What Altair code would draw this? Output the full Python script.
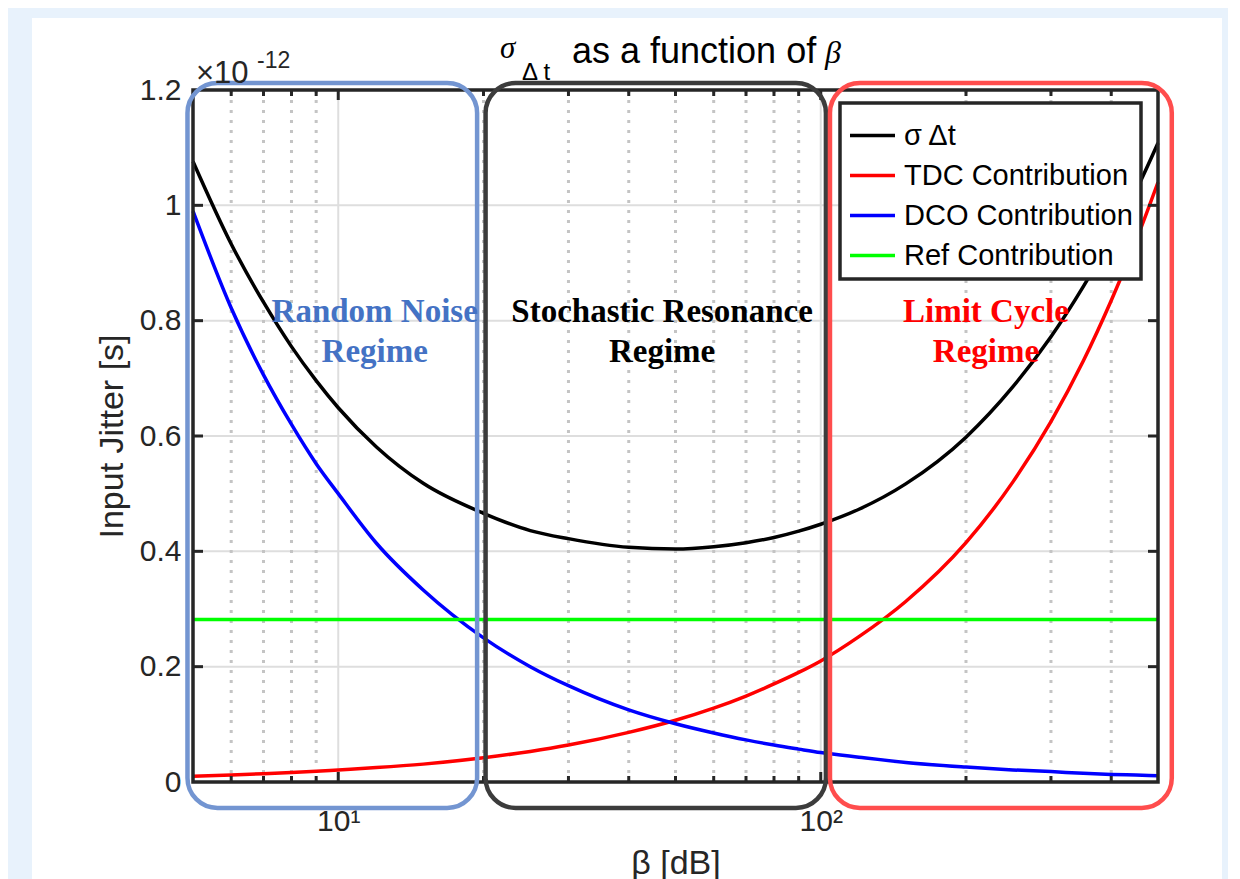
import altair as alt
import pandas as pd

# ---------------- data ----------------
beta = [5, 6, 7, 8, 9, 10, 12, 15, 20, 25, 30, 40, 50, 60, 70, 80, 90,
        100, 120, 150, 200, 250, 300, 350, 400, 450, 500]
sigma_dt = [1.076, 0.933, 0.832, 0.755, 0.696, 0.649, 0.581, 0.518, 0.466,
            0.436, 0.422, 0.407, 0.404, 0.408, 0.415, 0.424, 0.435,
            0.447, 0.473, 0.517, 0.598, 0.685, 0.772, 0.859, 0.943, 1.025, 1.108]
tdc = [0.010, 0.012, 0.0145, 0.0165, 0.0187, 0.021, 0.025, 0.031, 0.042,
       0.053, 0.064, 0.086, 0.107, 0.128, 0.149, 0.170, 0.190,
       0.210, 0.252, 0.313, 0.415, 0.520, 0.625, 0.730, 0.835, 0.938, 1.040]
dco = [0.990, 0.822, 0.706, 0.620, 0.552, 0.500, 0.414, 0.333, 0.250,
       0.200, 0.167, 0.125, 0.101, 0.085, 0.073, 0.064, 0.057,
       0.051, 0.043, 0.034, 0.026, 0.021, 0.018, 0.015, 0.013, 0.012, 0.011]
ref_beta = [5, 500]
ref_val = [0.282, 0.282]

series_names = ["σ Δt", "TDC Contribution", "DCO Contribution", "Ref Contribution"]
series_colors = ["#000000", "#ff0000", "#0000ff", "#00ff00"]

y_ticks = [0, 0.2, 0.4, 0.6, 0.8, 1.0, 1.2]
y_inner = [0.2, 0.4, 0.6, 0.8, 1.0]
x_major = [10, 100]
x_minor = [6, 7, 8, 9, 20, 30, 40, 50, 60, 70, 80, 90, 200, 300, 400]

regime_lo = [4.87, 20.2, 104.5]
regime_hi = [19.4, 102.5, 534]
regime_bottom = [-0.045, -0.045, -0.045]
regime_top = [1.212, 1.212, 1.212]
regime_edge = ["#7395d1", "#3c3c3c", "#ff4d4d"]

label_beta = [11.9, 46.9, 220, 11.9, 46.9, 220]
label_y = [0.815, 0.815, 0.815, 0.746, 0.746, 0.746]
label_text = ["Random Noise", "Stochastic Resonance", "Limit Cycle",
              "Regime", "Regime", "Regime"]
label_color = ["#4472c4", "#000000", "#ff0000", "#4472c4", "#000000", "#ff0000"]

# ---------------- tables ----------------
frames = []
for name, vals in zip(series_names[:3], [sigma_dt, tdc, dco]):
    frames.append(pd.DataFrame({"beta": beta, "val": vals, "series": name}))
frames.append(pd.DataFrame({"beta": ref_beta, "val": ref_val, "series": series_names[3]}))
lines_df = pd.concat(frames, ignore_index=True)

regime_df = pd.DataFrame({"lo": regime_lo, "hi": regime_hi,
                          "bottom": regime_bottom, "top": regime_top,
                          "edge": regime_edge})
text_df = pd.DataFrame({"beta": label_beta, "y": label_y,
                        "text": label_text, "color": label_color})
one = pd.DataFrame({"k": [0]})

W, H = 965, 692
AX = "#262626"
SANS = "Liberation Sans"

xs = alt.Scale(type="log", domain=[5, 500], nice=False)
ys = alt.Scale(domain=[0, 1.2], nice=False, zero=False)

# ---------------- layers ----------------
bg = alt.Chart(one).mark_rect(fill="white").encode(
    x=alt.value(-161), x2=alt.value(1029), y=alt.value(-72), y2=alt.value(H + 120))

ygrid = alt.Chart(pd.DataFrame({"v": y_inner})).mark_rule(
    color="#dedede", strokeWidth=2).encode(y=alt.Y("v:Q", scale=ys))
xgrid_major = alt.Chart(pd.DataFrame({"b": x_major})).mark_rule(
    color="#dedede", strokeWidth=2).encode(x=alt.X("b:Q", scale=xs))
xgrid_minor = alt.Chart(pd.DataFrame({"b": x_minor})).mark_rule(
    color="#c4c4c4", strokeWidth=3, strokeDash=[3, 7]).encode(
    x=alt.X("b:Q", scale=xs))

legend = alt.Legend(
    title=None, orient="none", legendX=647, legendY=13,
    symbolType="stroke", symbolSize=2025, symbolStrokeWidth=3.5,
    labelFont=SANS, labelFontSize=29, labelColor="#000000", labelLimit=400,
    labelOffset=7, fillColor="white", strokeColor=AX, padding=8, rowPadding=0,
)

lines = alt.Chart(lines_df).mark_line(strokeWidth=3.5, interpolate="monotone").encode(
    x=alt.X("beta:Q", scale=xs, axis=alt.Axis(
        values=x_major, labelExpr="datum.value == 10 ? '10¹' : '10²'",
        title="β [dB]", domain=False, ticks=False, grid=False, zindex=2,
        labelPadding=24, titlePadding=10)),
    y=alt.Y("val:Q", scale=ys, axis=alt.Axis(
        values=y_ticks, format="~g", title="Input Jitter [s]",
        domain=False, ticks=False, grid=False, zindex=2,
        labelPadding=12, titlePadding=10)),
    color=alt.Color("series:N", scale=alt.Scale(domain=series_names, range=series_colors),
                    legend=legend),
)

frame = alt.Chart(one).mark_rect(fillOpacity=0, stroke=AX, strokeWidth=3.5).encode(
    x=alt.value(0), x2=alt.value(W), y=alt.value(0), y2=alt.value(H))


def xticks(vals, y0, y1):
    return alt.Chart(pd.DataFrame({"b": vals})).mark_rule(color=AX, strokeWidth=3).encode(
        x=alt.X("b:Q", scale=xs), y=alt.value(y0), y2=alt.value(y1))


def yticks(x0, x1):
    return alt.Chart(pd.DataFrame({"v": y_inner})).mark_rule(color=AX, strokeWidth=3).encode(
        y=alt.Y("v:Q", scale=ys), x=alt.value(x0), x2=alt.value(x1))


ticks = [xticks(x_major, H, H - 10), xticks(x_minor, H, H - 6),
         xticks(x_major, 0, 10), xticks(x_minor, 0, 6),
         yticks(0, 10), yticks(W - 10, W)]

boxes = alt.Chart(regime_df).mark_rect(fillOpacity=0, strokeWidth=4.5, cornerRadius=30).encode(
    x=alt.X("lo:Q", scale=xs), x2="hi:Q",
    y=alt.Y("bottom:Q", scale=ys), y2="top:Q",
    stroke=alt.Stroke("edge:N", scale=None))

texts = alt.Chart(text_df).mark_text(
    font="Liberation Serif", fontWeight="bold", fontSize=33,
    align="center", baseline="middle").encode(
    x=alt.X("beta:Q", scale=xs),
    y=alt.Y("y:Q", scale=ys),
    text="text:N", fill=alt.Fill("color:N", scale=None))

title_parts = [
    alt.Chart(one).mark_text(text="σ", font="Liberation Serif", fontStyle="italic",
                             fontSize=31, align="left", baseline="alphabetic", color="#000")
    .encode(x=alt.value(307), y=alt.value(-32)),
    alt.Chart(one).mark_text(text="Δ t", font=SANS, fontSize=24, align="left",
                             baseline="alphabetic", color="#000")
    .encode(x=alt.value(329), y=alt.value(-10)),
    alt.Chart(one).mark_text(text="as a function of", font=SANS, fontSize=36, align="left",
                             baseline="alphabetic", color="#000")
    .encode(x=alt.value(379), y=alt.value(-27)),
    alt.Chart(one).mark_text(text="β", font="Liberation Serif", fontStyle="italic",
                             fontSize=32, align="left", baseline="alphabetic", color="#000")
    .encode(x=alt.value(632), y=alt.value(-27)),
    alt.Chart(one).mark_text(text="×10", font=SANS, fontSize=31, align="left",
                             baseline="alphabetic", color=AX)
    .encode(x=alt.value(3), y=alt.value(-7)),
    alt.Chart(one).mark_text(text="-12", font=SANS, fontSize=23, align="left",
                             baseline="alphabetic", color=AX)
    .encode(x=alt.value(64), y=alt.value(-22)),
]

chart = alt.layer(
    bg, ygrid, xgrid_major, xgrid_minor, lines, frame, *ticks, boxes, texts, *title_parts
).properties(
    width=W, height=H,
    padding={"left": 185, "top": 82, "right": 70, "bottom": 97},
    autosize=alt.AutoSizeParams(type="none"),
    background="#e8f2fc",
).configure_view(strokeWidth=0).configure_legend(strokeWidth=3.5).configure_axis(
    labelFont=SANS, labelFontSize=30, labelColor=AX,
    titleFont=SANS, titleFontSize=34, titleFontWeight="normal", titleColor=AX,
)

chart.save("out.html", embed_options={"renderer": "svg", "actions": False})
